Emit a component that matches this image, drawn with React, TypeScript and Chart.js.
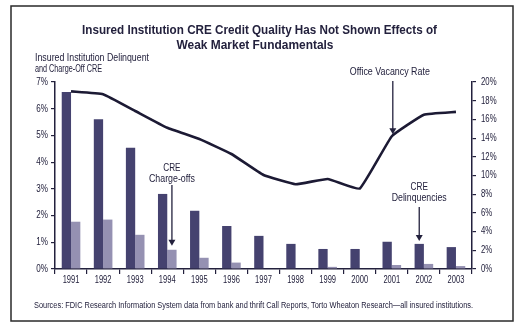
import React, { useEffect, useRef } from "react";
import { Chart, registerables } from "chart.js";

Chart.register(...registerables);

const years = ["1991", "1992", "1993", "1994", "1995", "1996", "1997", "1998", "1999", "2000", "2001", "2002", "2003"];
const delinquencies = [6.63, 5.61, 4.54, 2.81, 2.18, 1.61, 1.24, 0.94, 0.75, 0.75, 1.02, 0.94, 0.82];
const chargeOffs = [1.77, 1.85, 1.28, 0.72, 0.42, 0.24, 0, 0, 0.08, 0, 0.15, 0.19, 0.11];
const vacancyRate = [19.0, 18.7, 16.9, 15.1, 13.9, 12.3, 10.05, 9.06, 9.63, 8.6, 14.2, 16.5, 16.8];
const leftTicks = [0, 1, 2, 3, 4, 5, 6, 7];
const rightTicks = [0, 2, 4, 6, 8, 10, 12, 14, 16, 18, 20];

const titleLines = [
  "Insured Institution CRE Credit Quality Has Not Shown Effects of",
  "Weak Market Fundamentals",
];
const leftAxisTitle = ["Insured Institution Delinquent", "and Charge-Off CRE"];
const sourceText =
  "Sources: FDIC Research Information System data from bank and thrift Call Reports, Torto Wheaton Research\u2014all insured institutions.";

const FONT = "'Liberation Sans', Arial, sans-serif";
const INK = "#23213d";
const DARK = "#45426f";
const LIGHT = "#9591b2";

function txt(
  ctx: CanvasRenderingContext2D,
  s: string,
  x: number,
  y: number,
  font: string,
  align: CanvasTextAlign,
  squeeze: number,
  target?: number
) {
  ctx.font = font;
  ctx.textAlign = align;
  ctx.textBaseline = "middle";
  const w = ctx.measureText(s).width;
  ctx.fillText(s, x, y, target ?? w * squeeze);
}

function arrow(ctx: CanvasRenderingContext2D, x: number, y0: number, y1: number) {
  ctx.save();
  ctx.strokeStyle = INK;
  ctx.fillStyle = INK;
  ctx.lineWidth = 1.3;
  ctx.beginPath();
  ctx.moveTo(x, y0);
  ctx.lineTo(x, y1 - 5);
  ctx.stroke();
  ctx.beginPath();
  ctx.moveTo(x - 3.5, y1 - 6);
  ctx.lineTo(x + 3.5, y1 - 6);
  ctx.lineTo(x, y1);
  ctx.closePath();
  ctx.fill();
  ctx.restore();
}

const decorPlugin = {
  id: "decor",
  afterDraw(chart: any) {
    const ctx: CanvasRenderingContext2D = chart.ctx;
    ctx.save();
    // frame
    ctx.strokeStyle = "#2a2a2a";
    ctx.lineWidth = 1.5;
    ctx.strokeRect(11, 6, 502, 315);

    ctx.fillStyle = INK;
    txt(ctx, titleLines[0], 259.5, 30, `bold 13.5px ${FONT}`, "center", 0.82, 355);
    txt(ctx, titleLines[1], 255, 45, `bold 13.5px ${FONT}`, "center", 0.82, 157);

    txt(ctx, leftAxisTitle[0], 35, 58, `10px ${FONT}`, "left", 0.8, 114);
    txt(ctx, leftAxisTitle[1], 35, 69, `10px ${FONT}`, "left", 0.8, 67);

    txt(ctx, sourceText, 34, 306, `8.5px ${FONT}`, "left", 0.8, 439);

    const xs = chart.scales.x;
    const yL = chart.scales.y;
    const yR = chart.scales.y1;

    // tick labels
    const tf = `10.5px ${FONT}`;
    years.forEach((yv, i) => {
      txt(ctx, yv, xs.getPixelForValue(i), 280, tf, "center", 0.72);
    });
    leftTicks.forEach((v) => {
      txt(ctx, v + "%", 48, yL.getPixelForValue(v), tf, "right", 0.77);
    });
    rightTicks.forEach((v) => {
      txt(ctx, v + "%", 481, yR.getPixelForValue(v), tf, "left", 0.74);
    });

    // Office vacancy annotation
    const vx = xs.getPixelForValue(10) + 1;
    const vy = yR.getPixelForValue(vacancyRate[10]);
    txt(ctx, "Office Vacancy Rate", vx - 3, 72, `10.5px ${FONT}`, "center", 0.85, 80);
    arrow(ctx, vx, 81, vy - 2);

    // Charge-offs annotation
    const cBar = chart.getDatasetMeta(2).data[3];
    txt(ctx, "CRE", cBar.x, 168, `10.5px ${FONT}`, "center", 0.78);
    txt(ctx, "Charge-offs", cBar.x, 179, `10.5px ${FONT}`, "center", 0.85, 46);
    arrow(ctx, cBar.x, 185, cBar.y - 4);

    // Delinquencies annotation
    const dBar = chart.getDatasetMeta(1).data[11];
    txt(ctx, "CRE", dBar.x, 187, `10.5px ${FONT}`, "center", 0.78);
    txt(ctx, "Delinquencies", dBar.x, 198, `10.5px ${FONT}`, "center", 0.85, 55);
    arrow(ctx, dBar.x, 207, dBar.y - 3);

    ctx.restore();
  },
};

export default function App() {
  const ref = useRef<HTMLCanvasElement>(null);

  useEffect(() => {
    document.body.style.margin = "0";
    const canvas = ref.current!;
    const chart = new Chart(canvas, {
      type: "bar",
      data: {
        labels: years,
        datasets: [
          {
            type: "line",
            label: "Office Vacancy Rate",
            data: vacancyRate,
            yAxisID: "y1",
            borderColor: "#1c1a34",
            borderWidth: 2.6,
            pointRadius: 0,
            tension: 0.1,
            fill: false,
            order: 0,
          } as any,
          {
            label: "CRE Delinquencies",
            data: delinquencies,
            yAxisID: "y",
            backgroundColor: DARK,
            categoryPercentage: 0.58,
            barPercentage: 1.0,
            order: 1,
          },
          {
            label: "CRE Charge-offs",
            data: chargeOffs,
            yAxisID: "y",
            backgroundColor: LIGHT,
            categoryPercentage: 0.58,
            barPercentage: 1.0,
            order: 2,
          },
        ],
      },
      options: {
        animation: false,
        responsive: false,
        maintainAspectRatio: false,
        devicePixelRatio: 1,
        layout: { padding: { left: 10, right: 14, top: 82, bottom: 38 } },
        plugins: {
          legend: { display: false },
          tooltip: { enabled: false },
          title: { display: false },
        },
        scales: {
          x: {
            offset: true,
            grid: {
              offset: true,
              drawOnChartArea: false,
              drawTicks: true,
              tickLength: 5,
              color: INK,
              lineWidth: 1.2,
            },
            border: { display: true, color: INK, width: 1.5 },
            ticks: { display: false, autoSkip: false },
            afterFit: (s: any) => {
              s.height = 22;
            },
          },
          y: {
            position: "left",
            min: 0,
            max: 7,
            afterBuildTicks: (s: any) => {
              s.ticks = leftTicks.map((v) => ({ value: v }));
            },
            grid: { drawOnChartArea: false, drawTicks: true, tickLength: 4, color: INK, lineWidth: 1.2 },
            border: { display: true, color: INK, width: 1.5 },
            ticks: { display: false },
            afterFit: (s: any) => {
              s.width = 45;
            },
          },
          y1: {
            position: "right",
            min: 0,
            max: 20,
            afterBuildTicks: (s: any) => {
              s.ticks = rightTicks.map((v) => ({ value: v }));
            },
            grid: { drawOnChartArea: false, drawTicks: true, tickLength: 4, color: INK, lineWidth: 1.2 },
            border: { display: true, color: INK, width: 1.5 },
            ticks: { display: false },
            afterFit: (s: any) => {
              s.width = 45;
            },
          },
        },
      },
      plugins: [decorPlugin],
    });
    return () => chart.destroy();
  }, []);

  return (
    <div style={{ width: 531, height: 329, background: "#fff" }}>
      <canvas ref={ref} width={531} height={329} style={{ display: "block", width: 531, height: 329 }} />
    </div>
  );
}
